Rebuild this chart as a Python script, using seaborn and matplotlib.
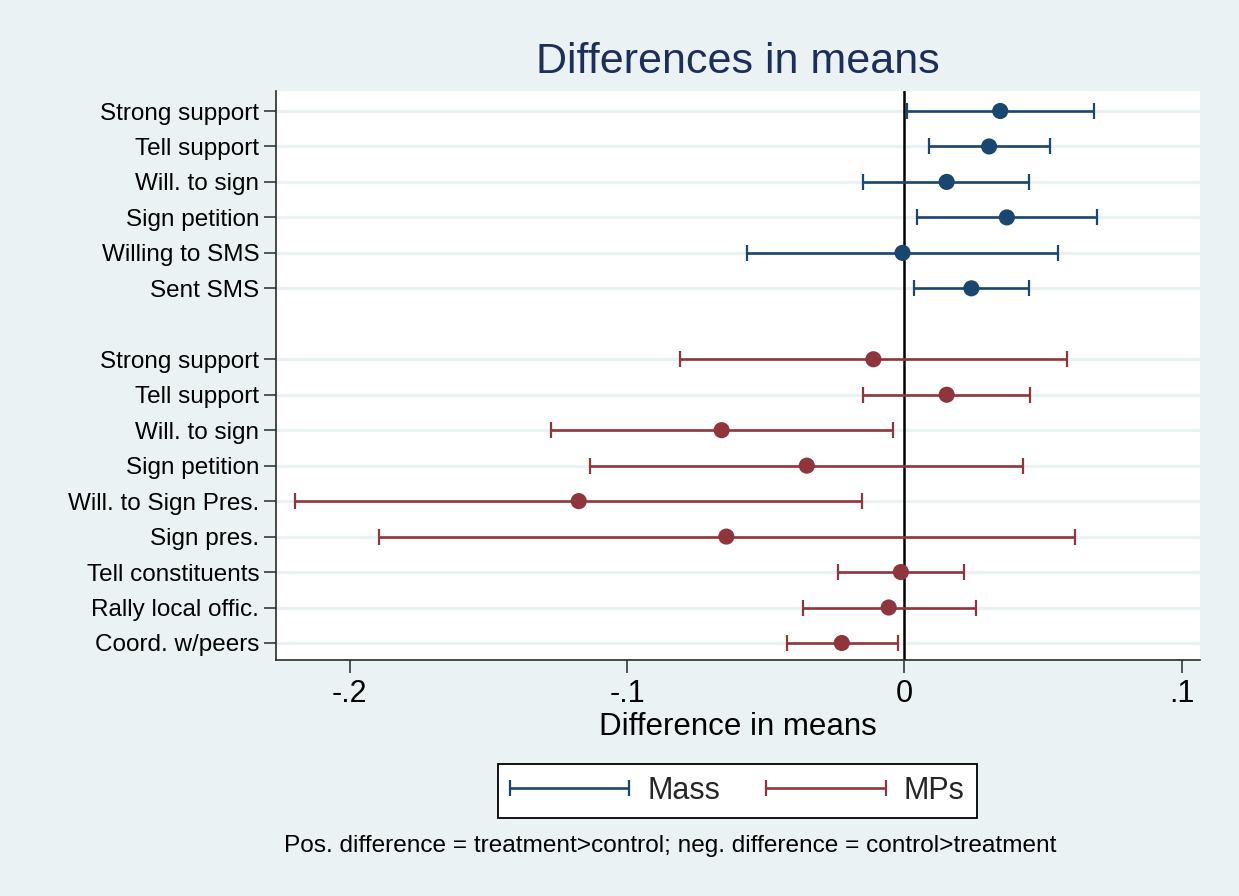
import numpy as np
import pandas as pd
import matplotlib
matplotlib.use("Agg")
import matplotlib.pyplot as plt
from matplotlib.container import ErrorbarContainer
from matplotlib.legend_handler import HandlerErrorbar
import seaborn as sns

# ---------------- data ----------------
mass_labels = ["Strong support", "Tell support", "Will. to sign", "Sign petition",
               "Willing to SMS", "Sent SMS"]
mass_est = [0.0345, 0.0305, 0.0152, 0.0369, -0.0007, 0.0241]
mass_lo = [0.0009, 0.0088, -0.0148, 0.0046, -0.0568, 0.0034]
mass_hi = [0.0684, 0.0523, 0.0448, 0.0692, 0.0552, 0.0450]

mp_labels = ["Strong support", "Tell support", "Will. to sign", "Sign petition",
             "Will. to Sign Pres.", "Sign pres.", "Tell constituents",
             "Rally local offic.", "Coord. w/peers"]
mp_est = [-0.0112, 0.0152, -0.0659, -0.0352, -0.1174, -0.0642, -0.0013, -0.0057, -0.0226]
mp_lo = [-0.0808, -0.0150, -0.1273, -0.1132, -0.2197, -0.1895, -0.0239, -0.0367, -0.0425]
mp_hi = [0.0585, 0.0454, -0.0042, 0.0427, -0.0152, 0.0615, 0.0216, 0.0258, -0.0023]

x_ticks = [-0.2, -0.1, 0.0, 0.1]
x_tick_labels = ["-.2", "-.1", "0", ".1"]

colors = {"Mass": "#1a476f", "MPs": "#90353b"}

rows = []
for i, (l, e, lo, hi) in enumerate(zip(mass_labels, mass_est, mass_lo, mass_hi)):
    rows.append(dict(group="Mass", label=l, est=e, lo=lo, hi=hi, pos=i + 1))
start = len(mass_labels) + 2
for i, (l, e, lo, hi) in enumerate(zip(mp_labels, mp_est, mp_lo, mp_hi)):
    rows.append(dict(group="MPs", label=l, est=e, lo=lo, hi=hi, pos=start + i))
df = pd.DataFrame(rows)

# ---------------- style ----------------
sns.set_theme(style="white")
plt.rcParams["font.family"] = ["Liberation Sans", "DejaVu Sans"]

bg = "#eaf2f3"
W, H = 1239, 896
fig = plt.figure(figsize=(W / 100, H / 100), dpi=100, facecolor=bg)
ax = fig.add_axes([276 / W, 1 - 660 / H, (1200 - 276) / W, (660 - 91) / H])
ax.set_facecolor("white")

for p in df["pos"]:
    ax.axhline(p, color=bg, lw=2.2, zorder=0)
ax.axvline(0, color="black", lw=1.8, zorder=1)

handles = []
for g, c in colors.items():
    sub = df[df["group"] == g]
    h = ax.errorbar(sub["est"], sub["pos"],
                    xerr=[sub["est"] - sub["lo"], sub["hi"] - sub["est"]],
                    fmt="none", ecolor=c, elinewidth=1.9, capsize=5.8,
                    capthick=1.6, zorder=2, label=g)
    handles.append(h)

sns.scatterplot(data=df, x="est", y="pos", hue="group", palette=colors,
                s=135, edgecolor="none", legend=False, ax=ax, zorder=3)

ax.set_xlim(-0.2265, 0.1065)
ax.set_ylim(16.48, 0.436)
ax.set_yticks(df["pos"])
ax.set_yticklabels(df["label"])
ax.set_xticks(x_ticks)
ax.set_xticklabels(x_tick_labels)
ax.set_xlabel("")
ax.set_ylabel("")

for s in ["top", "right"]:
    ax.spines[s].set_visible(False)
for s in ["left", "bottom"]:
    ax.spines[s].set_color("#2a2a2a")
    ax.spines[s].set_linewidth(1.2)

ax.tick_params(axis="y", left=True, length=9, width=1.1, color="#2a2a2a",
               labelsize=17.5, pad=3, labelcolor="black")
ax.tick_params(axis="x", bottom=True, length=9, width=1.1, color="#2a2a2a",
               labelsize=22, pad=5, labelcolor="black")

fig.text(738 / W, 1 - 62 / H, "Differences in means", fontsize=31,
         color="#1c2f5c", ha="center", va="center")
fig.text(738 / W, 1 - 727 / H, "Difference in means", fontsize=22.5,
         color="black", ha="center", va="center")
fig.text(670 / W, 1 - 846 / H,
         "Pos. difference = treatment>control; neg. difference = control>treatment",
         fontsize=17.6, color="black", ha="center", va="center")

leg = fig.legend(handles=handles, labels=list(colors.keys()), loc="center",
                 bbox_to_anchor=(737.5 / W, 1 - 791 / H), ncol=2, fontsize=22,
                 handlelength=3.9, handletextpad=0.6, columnspacing=1.5,
                 borderpad=0.4, fancybox=False, frameon=True, framealpha=1,
                 handler_map={ErrorbarContainer: HandlerErrorbar(xerr_size=1.95)})
leg.get_frame().set_edgecolor("black")
leg.get_frame().set_linewidth(1.3)
leg.get_frame().set_facecolor("white")

fig.savefig("out.png", dpi=100, facecolor=bg)
